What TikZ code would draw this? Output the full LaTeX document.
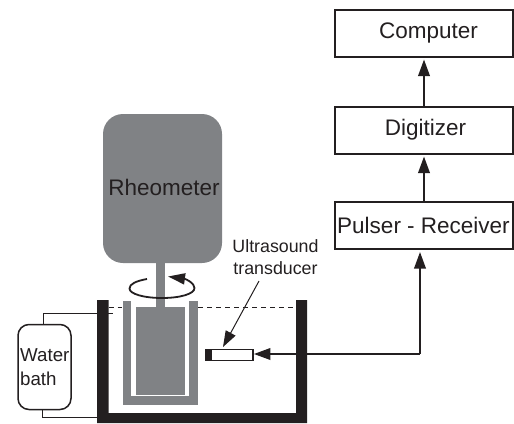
\documentclass[tikz,border=0pt]{standalone}
\usepackage{fontspec}
\setmainfont{Liberation Sans}
\usetikzlibrary{arrows.meta,positioning}
\definecolor{ink}{HTML}{231F20}
\definecolor{midgray}{HTML}{808285}
\tikzset{
 pixel/.style={x=1pt,y=-1pt},
 blockbox/.style={draw=ink,line width=2pt,fill=white,minimum width=178pt,minimum height=47pt,inner sep=0pt,font=\fontsize{22.5}{24}\selectfont,text=ink},
 flow/.style={draw=ink,line width=2pt,-{Triangle[length=16.5pt,width=11.5pt]}},
 wire/.style={draw=ink,line width=1pt},
 solidgray/.style={fill=midgray,draw=none},
 solidblack/.style={fill=ink,draw=none},
 caption/.style={font=\fontsize{17.8}{22}\selectfont,text=ink,align=center,inner sep=0pt}
}
\begin{document}
\begin{tikzpicture}[pixel]
\useasboundingbox (0,0) rectangle (514,423);
% blocks
\node[blockbox] (computer) at (423.5,33) {\hspace{10pt}\raisebox{4pt}{Computer}};
\node[blockbox] (digitizer) at (423.5,130) {\hspace{4pt}\raisebox{2pt}{Digitizer}};
\node[blockbox] (pulser) at (423.5,225.5) {\raisebox{1pt}{Pulser - Receiver}};
% rheometer
\node[solidgray,rounded corners=20pt,minimum width=119pt,minimum height=149pt,inner sep=0pt] (rheo) at (162.5,188.5) {};
\node[font=\fontsize{22.5}{24}\selectfont,text=ink,inner sep=0pt] (rheolabel) at (164,187) {Rheometer};
% cup and bob
\fill[solidgray] (122.5,301) rectangle (198,405);
\fill[white] (131,301) rectangle (189,395.5);
\fill[solidgray] (156,263) rectangle (165,307);
\fill[solidgray] (136,306.5) rectangle (185,394.5);
% tank
\fill[solidblack] (97,300) -- (108.5,300) -- (108.5,413) -- (296,413) -- (296,300) -- (307,300) -- (307,423) -- (97,423) -- cycle;
\draw[ink,line width=1pt,dash pattern=on 5pt off 4pt] (108.5,307.5) -- (122,307.5) (198,307.5) -- (296,307.5);
% rotation arrow
\draw[ink,line width=1.8pt,-{Triangle[length=17pt,width=11pt]}] (147,279) .. controls (136,281) and (129.5,284) .. (129.5,288.5) .. controls (129.5,294) and (144,298) .. (162,298) .. controls (180,298) and (194.5,294) .. (194.5,288) .. controls (194.5,283) and (186,279) .. (168,276.5);
% water bath
\node[draw=ink,line width=1.5pt,rounded corners=11pt,fill=white,minimum width=53pt,minimum height=85pt,inner sep=0pt] (bath) at (44.5,367) {};
\node[font=\fontsize{18.7}{24}\selectfont,text=ink,align=left,inner sep=0pt,anchor=west] (bathlabel) at (20,367) {Water\\bath};
\coordinate (bathtop) at (43.5,324);
\coordinate (bathbot) at (42.5,409);
\coordinate (walltop) at (113,313);
\coordinate (wallbot) at (97,417.5);
\draw[wire] (bathtop) -- (43.5,313) -- (walltop);
\draw[wire] (bathbot) -- (42.5,417.5) -- (wallbot);
% transducer
\node[draw=ink,line width=1.7pt,fill=white,minimum width=47pt,minimum height=11pt,inner sep=0pt] (probe) at (229.5,355) {};
\fill[solidblack] (205.5,349.5) rectangle (212,361);
\node[caption] (ultra) at (275.5,257) {Ultrasound\\transducer};
\draw[ink,line width=1pt,-{Triangle[length=16pt,width=11pt]}] (259,281) -- (223,347);
% connectors
\draw[flow,shorten >=2pt] (digitizer.north -| 424,0) -- (computer.south -| 424,0);
\draw[flow,shorten >=2pt] (pulser.north -| 424,0) -- (digitizer.south -| 424,0);
\draw[flow,shorten >=2pt] (420,354) -- (pulser.south -| 420,0);
\draw[flow] (420,354) -- (probe.east |- 0,354);
\end{tikzpicture}
\end{document}
